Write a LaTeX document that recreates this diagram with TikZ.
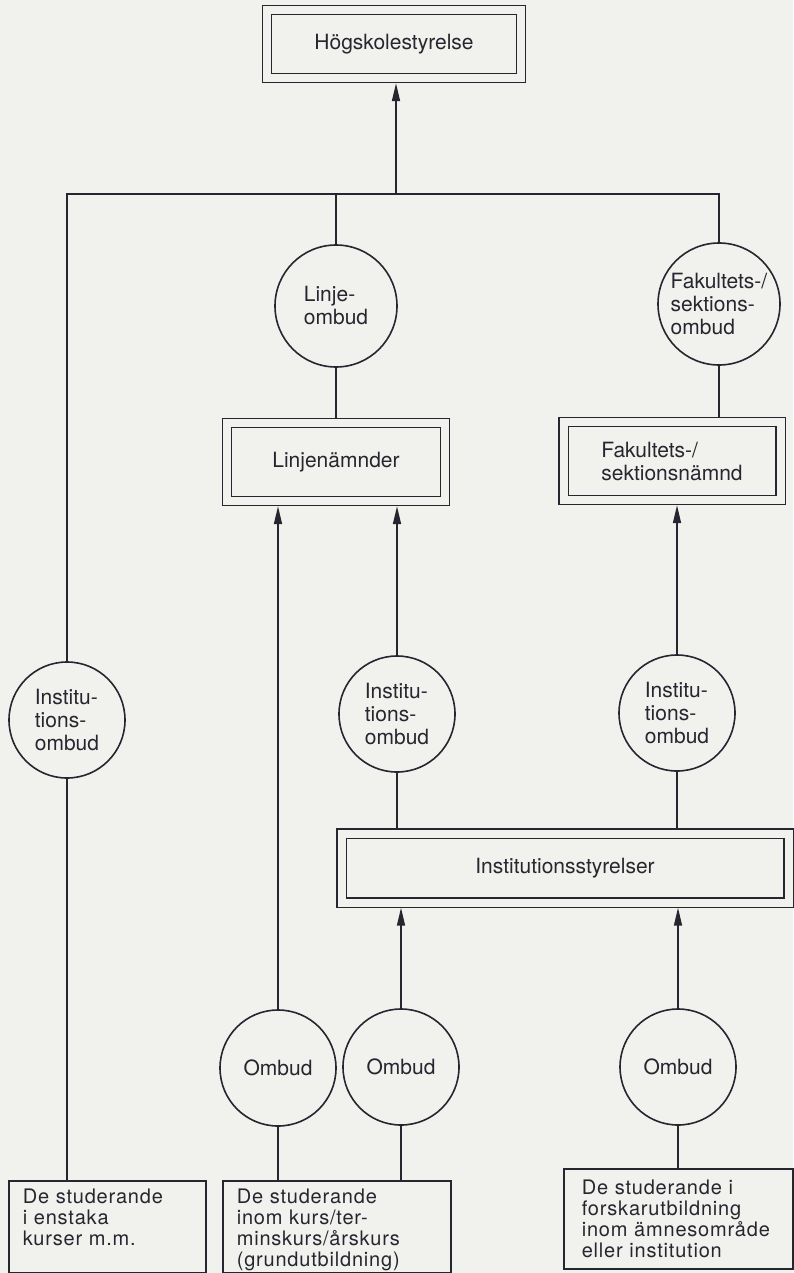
\documentclass[tikz,border=0pt]{standalone}
\usepackage{fontspec}
\setmainfont{TeX Gyre Heros}
\newfontfamily\studfont[LetterSpace=4]{TeX Gyre Heros}
\usetikzlibrary{arrows.meta}
\definecolor{ink}{RGB}{38,38,48}
\definecolor{paper}{RGB}{241,241,237}

\begin{document}
\begin{tikzpicture}[x=0.5pt,y=-0.5pt,
  every node/.style={font=\fontsize{10.5}{11.5}\selectfont,text=ink},
  pl/.style={ink,line width=0.8pt},
  ar/.style={pl,-{Triangle[length=9pt,width=4pt]}},
  ob/.style={draw=ink,line width=0.8pt,circle,minimum size=58pt,inner sep=0pt,align=left},
  nb/.style={draw=ink,line width=0.6pt,double=paper,double distance=4pt,outer sep=2.6pt,inner sep=0pt,align=left},
  sb/.style={draw=ink,line width=0.8pt,anchor=north west,align=left,inner xsep=7pt,inner ysep=3.5pt,text height=8pt,
    font=\studfont\fontsize{10}{10.5}\selectfont}]
\useasboundingbox (0,0) rectangle (793,1273);
\fill[paper] (0,0) rectangle (793,1273);
%------------- boards
\node[nb,minimum width=127pt,minimum height=34pt] (hs) at (394,44) {Högskolestyrelse};
\node[nb,minimum width=109pt,minimum height=39pt] (lnm) at (336,462) {Linjenämnder};
\node[nb,minimum width=108.5pt,minimum height=39pt] (fnm) at (672,461) {Fakultets-/\\sektionsnämnd};
\node[nb,minimum width=223.5pt,minimum height=34.5pt] (ist) at (565,868) {Institutionsstyrelser};
%------------- representatives
\node[ob,minimum size=61pt] (lo) at (336,306) {Linje-\\ombud};
\node[ob,minimum size=61pt] (fo) at (719,304) {Fakultets-/\\sektions-\\ombud};
\node[ob] (il) at (67,720) {Institu-\\tions-\\ombud};
\node[ob] (im) at (397,714) {Institu-\\tions-\\ombud};
\node[ob] (ir) at (677,713) {Institu-\\tions-\\ombud};
\node[ob] (o1) at (278,1068) {Ombud};
\node[ob] (o2) at (401,1067) {Ombud};
\node[ob] (o3) at (678,1067) {Ombud};
%------------- students
\node[sb,text width=84.5pt,text depth=31pt] (sl) at (8,1180) {De studerande\\i enstaka\\kurser m.m.};
\node[sb,text width=100pt,text depth=31pt] (sm) at (222,1180) {De studerande\\inom kurs/ter-\\minskurs/årskurs\\(grundutbildning)};
\node[sb,inner xsep=9pt,inner ysep=5pt,text width=96.5pt,text depth=32pt] (sr) at (563,1168) {De studerande i\\forskarutbildning\\inom ämnesområde\\eller institution};
%------------- connectors
\coordinate (bar) at (396,194);
\draw[pl] (il.north) -- (il.north |- bar) -- (fo.north |- bar) -- (fo.north);
\draw[pl] (lo.north) -- (lo.north |- bar);
\draw[ar] (bar) -- (bar |- hs.south);
\draw[pl] (lo.south) -- (lo.south |- lnm.north);
\draw[pl] (fo.south) -- (fo.south |- fnm.north);
\draw[ar] (o1.north) -- (o1.north |- lnm.south);
\draw[ar] (im.north) -- (im.north |- lnm.south);
\draw[ar] (ir.north) -- (ir.north |- fnm.south);
\draw[pl] (im.south) -- (im.south |- ist.north);
\draw[pl] (ir.south) -- (ir.south |- ist.north);
\draw[ar] (o2.north) -- (o2.north |- ist.south);
\draw[ar] (o3.north) -- (o3.north |- ist.south);
\draw[pl] (il.south) -- (il.south |- sl.north);
\draw[pl] (o1.south) -- (o1.south |- sm.north);
\draw[pl] (o2.south) -- (o2.south |- sm.north);
\draw[pl] (o3.south) -- (o3.south |- sr.north);
\end{tikzpicture}
\end{document}
